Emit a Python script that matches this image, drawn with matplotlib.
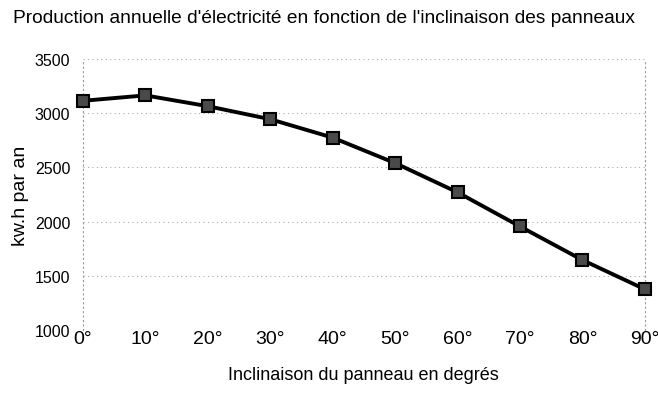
import matplotlib.pyplot as plt
import matplotlib as mpl

mpl.rcParams['font.family'] = ['Liberation Sans', 'DejaVu Sans']

# données
inclinaisons = [0, 10, 20, 30, 40, 50, 60, 70, 80, 90]
production = [3115, 3165, 3065, 2945, 2775, 2540, 2270, 1955, 1645, 1375]
y_ticks = [1000, 1500, 2000, 2500, 3000, 3500]
x_labels = [f"{d}°" for d in inclinaisons]

fig = plt.figure(figsize=(6.58, 4.06), dpi=100)
ax = fig.add_axes([0.126, 0.185, 0.854, 0.667])

ax.plot(inclinaisons, production, color='black', lw=2.8,
        marker='s', markersize=9, markerfacecolor='#4a4a4a',
        markeredgecolor='black', markeredgewidth=1.5, clip_on=False, zorder=3)

ax.set_xlim(0, 90)
ax.set_ylim(1000, 3500)
ax.set_xticks(inclinaisons)
ax.set_xticklabels(x_labels, fontsize=14)
ax.set_yticks(y_ticks)
ax.set_yticklabels([str(v) for v in y_ticks], fontsize=11.5)
ax.tick_params(length=0)
ax.tick_params(axis='x', pad=0)
ax.tick_params(axis='y', pad=9)

# grille en pointillés gris clair
ax.grid(axis='y', color='#aaaaaa', linestyle=(0, (1, 3)), lw=0.8)
for s in ['top', 'bottom']:
    ax.spines[s].set_visible(False)
for s in ['left', 'right']:
    ax.spines[s].set_linestyle((0, (1, 3)))
    ax.spines[s].set_color('#999999')
    ax.spines[s].set_linewidth(0.8)

ax.set_xlabel("Inclinaison du panneau en degrés", fontsize=13, labelpad=14)
ax.set_ylabel("kw.h par an", fontsize=14, labelpad=4)
fig.text(0.493, 0.955, "Production annuelle d'électricité en fonction de l'inclinaison des panneaux",
         ha='center', va='center', fontsize=13.8)

fig.savefig("out.png", dpi=100)
